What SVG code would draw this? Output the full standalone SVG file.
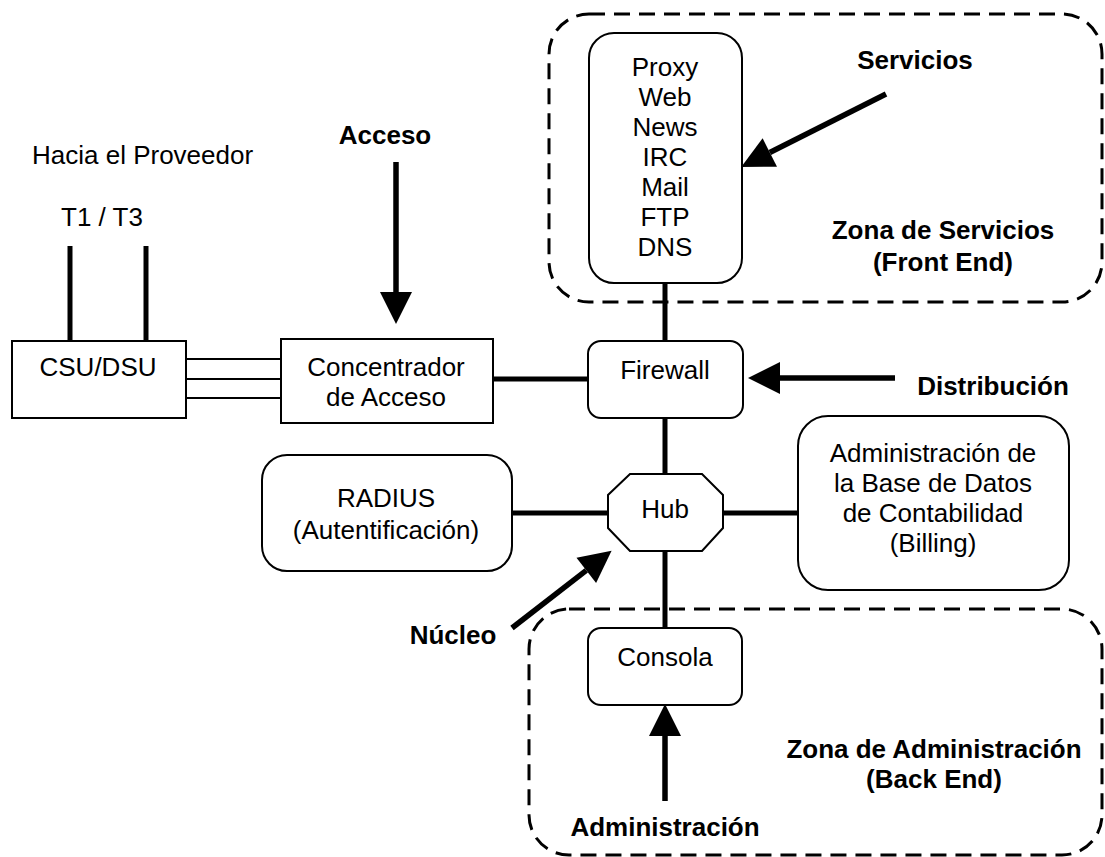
<svg xmlns="http://www.w3.org/2000/svg" width="1105" height="857" viewBox="0 0 1105 857">
<style>
text{font-family:"Liberation Sans",Arial,sans-serif;font-size:26px;fill:#000;text-anchor:middle}
.b{font-weight:bold}
.box{fill:#fff;stroke:#000;stroke-width:2}
.zone{fill:none;stroke:#000;stroke-width:3;stroke-dasharray:16 9}
.thick{stroke:#000;stroke-width:5;fill:none}
.thin{stroke:#000;stroke-width:1.8;fill:none}
.arr{stroke:#000;stroke-width:5.5;fill:none;marker-end:url(#ah)}
</style>
<defs>
<marker id="ah" markerUnits="userSpaceOnUse" markerWidth="32" markerHeight="32" viewBox="0 0 30 30" refX="0" refY="15" orient="auto" overflow="visible">
<path d="M0,0 L30,15 L0,30 Z" fill="#000"/>
</marker>
</defs>
<rect width="1105" height="857" fill="#fff"/>
<g id="zones">
<rect id="zona-servicios" class="zone" x="549" y="14" width="553" height="288" rx="40" ry="40"/>
<rect id="zona-admin" class="zone" x="529" y="609" width="573" height="246" rx="40" ry="40"/>
</g>
<g id="connectors">
<line class="thick" x1="70" y1="246" x2="70" y2="341"/>
<line class="thick" x1="146" y1="246" x2="146" y2="341"/>
<line class="thin" x1="186" y1="359" x2="281" y2="359"/>
<line class="thin" x1="186" y1="379" x2="281" y2="379"/>
<line class="thin" x1="186" y1="398" x2="281" y2="398"/>
<line class="thick" x1="493" y1="379" x2="588" y2="379"/>
<line class="thick" x1="665" y1="283" x2="665" y2="341"/>
<line class="thick" x1="665" y1="418" x2="665" y2="474"/>
<line class="thick" x1="512" y1="513" x2="608" y2="513"/>
<line class="thick" x1="723" y1="513" x2="798" y2="513"/>
<line class="thick" x1="665" y1="551" x2="665" y2="628"/>
<line class="arr" x1="396" y1="162" x2="396" y2="292"/>
<line class="arr" x1="886" y1="94" x2="769.8" y2="152.5"/>
<line class="arr" x1="895" y1="378" x2="780" y2="378"/>
<line class="arr" x1="512" y1="628" x2="586.3" y2="570.4"/>
<line class="arr" x1="665" y1="801" x2="665" y2="736"/>
</g>
<g id="servicios-box">
<rect class="box" x="589" y="33" width="153" height="250" rx="25" ry="25"/>
<text x="665" y="76">Proxy</text>
<text x="665" y="106">Web</text>
<text x="665" y="136">News</text>
<text x="665" y="166">IRC</text>
<text x="665" y="196">Mail</text>
<text x="665" y="226">FTP</text>
<text x="665" y="256">DNS</text>
</g>
<g id="firewall">
<rect class="box" x="588" y="341" width="155" height="77" rx="13" ry="13"/>
<text x="665" y="379">Firewall</text>
</g>
<g id="csudsu">
<rect class="box" x="12" y="341" width="174" height="77"/>
<text x="98" y="376">CSU/DSU</text>
</g>
<g id="concentrador">
<rect class="box" x="281" y="339" width="212" height="84"/>
<text x="386" y="376">Concentrador</text>
<text x="386" y="406">de Acceso</text>
</g>
<g id="hub">
<polygon class="box" points="630,474 702,474 723,495 723,528 702,551 630,551 608,528 608,495"/>
<text x="665" y="518">Hub</text>
</g>
<g id="radius">
<rect class="box" x="262" y="455" width="250" height="116" rx="25" ry="25"/>
<text x="386" y="507">RADIUS</text>
<text x="386" y="539">(Autentificación)</text>
</g>
<g id="billing">
<rect class="box" x="798" y="416" width="271" height="174" rx="30" ry="30"/>
<text x="933" y="462">Administración de</text>
<text x="933" y="492">la Base de Datos</text>
<text x="933" y="522">de Contabilidad</text>
<text x="933" y="552">(Billing)</text>
</g>
<g id="consola">
<rect class="box" x="588" y="628" width="154" height="77" rx="13" ry="13"/>
<text x="665" y="666">Consola</text>
</g>
<g id="labels">
<text x="32" y="164" style="text-anchor:start">Hacia el Proveedor</text>
<text x="102" y="226">T1 / T3</text>
<text class="b" x="385" y="144">Acceso</text>
<text class="b" x="915" y="69">Servicios</text>
<text class="b" x="943" y="239">Zona de Servicios</text>
<text class="b" x="943" y="271">(Front End)</text>
<text class="b" x="993" y="395">Distribución</text>
<text class="b" x="453" y="644">Núcleo</text>
<text class="b" x="934" y="758">Zona de Administración</text>
<text class="b" x="934" y="788">(Back End)</text>
<text class="b" x="665" y="836">Administración</text>
</g>
</svg>
